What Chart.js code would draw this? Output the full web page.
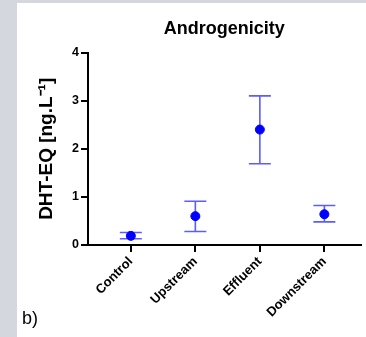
<!DOCTYPE html>
<html>
<head>
<meta charset="utf-8">
<script src="https://cdn.jsdelivr.net/npm/chart.js@4"></script>
<style>
  html, body { margin: 0; padding: 0; }
  body { width: 366px; height: 337px; background: #d4d8de; position: relative; overflow: hidden; }
  #panel { position: absolute; left: 17px; top: 3px; width: 349px; height: 334px; background: #fff; }
  #chart { position: absolute; left: 0; top: 0; }
  #tag { position: absolute; left: 5px; top: 305px; font: 18px "Liberation Sans", Arial, sans-serif; color: #000; }
</style>
</head>
<body>
<div id="panel">
  <canvas id="chart" width="349" height="334"></canvas>
  <div id="tag">b)</div>
</div>
<script>
const categories = ['Control', 'Upstream', 'Effluent', 'Downstream'];
const means = [0.19, 0.60, 2.40, 0.64];
const errLow = [0.13, 0.28, 1.69, 0.48];
const errHigh = [0.26, 0.91, 3.10, 0.82];
const yTicks = [0, 1, 2, 3, 4];

const font = '"Liberation Sans", Arial, sans-serif';

// error bars drawn under the points
const errorBars = {
  id: 'errorBars',
  beforeDatasetsDraw(chart) {
    const ctx = chart.ctx;
    const xs = chart.scales.x;
    const ys = chart.scales.y;
    const cap = 11;
    ctx.save();
    ctx.strokeStyle = '#5c5cff';
    ctx.lineWidth = 1.6;
    categories.forEach((c, i) => {
      const x = xs.getPixelForValue(i);
      const lo = ys.getPixelForValue(errLow[i]);
      const hi = ys.getPixelForValue(errHigh[i]);
      ctx.beginPath();
      ctx.moveTo(x, lo); ctx.lineTo(x, hi);
      ctx.moveTo(x - cap, lo); ctx.lineTo(x + cap, lo);
      ctx.moveTo(x - cap, hi); ctx.lineTo(x + cap, hi);
      ctx.stroke();
    });
    ctx.restore();
  }
};

new Chart(document.getElementById('chart'), {
  type: 'scatter',
  data: {
    datasets: [{
      data: means.map((v, i) => ({x: i, y: v})),
      backgroundColor: '#0000ff',
      borderColor: '#0000ff',
      pointRadius: 4.5,
      pointHoverRadius: 4.5
    }]
  },
  options: {
    responsive: false,
    animation: false,
    layout: { padding: 0 },
    plugins: {
      legend: { display: false },
      tooltip: { enabled: false },
      title: {
        display: true,
        text: 'Androgenicity',
        fullSize: false,
        color: '#000',
        font: { family: font, size: 18, weight: 'bold' },
        padding: { top: 15, bottom: 13 }
      }
    },
    scales: {
      x: {
        type: 'linear',
        min: -0.664,
        max: 3.56,
        afterBuildTicks: s => { s.ticks = categories.map((c, i) => ({value: i})); },
        afterFit: s => { s.height = 92; },
        ticks: {
          color: '#000',
          font: { family: font, size: 13, weight: 'bold' },
          maxRotation: 45,
          minRotation: 45,
          padding: 2,
          callback: v => categories[v]
        },
        grid: { drawOnChartArea: false, drawTicks: true, tickLength: 7, color: '#000', lineWidth: 2 },
        border: { display: true, color: '#000', width: 2 }
      },
      y: {
        min: 0,
        max: 4,
        afterBuildTicks: s => { s.ticks = yTicks.map(v => ({value: v})); },
        afterFit: s => { s.width = 71; },
        ticks: {
          color: '#000',
          font: { family: font, size: 12.5, weight: 'bold' },
          padding: 2
        },
        grid: { drawOnChartArea: false, drawTicks: true, tickLength: 7, color: '#000', lineWidth: 2 },
        border: { display: true, color: '#000', width: 2 },
        title: {
          display: true,
          text: 'DHT-EQ [ng.L⁻¹]',
          color: '#000',
          font: { family: font, size: 19, weight: 'bold' },
          padding: { top: 18, bottom: 0 }
        }
      }
    }
  },
  plugins: [errorBars]
});
</script>
</body>
</html>
